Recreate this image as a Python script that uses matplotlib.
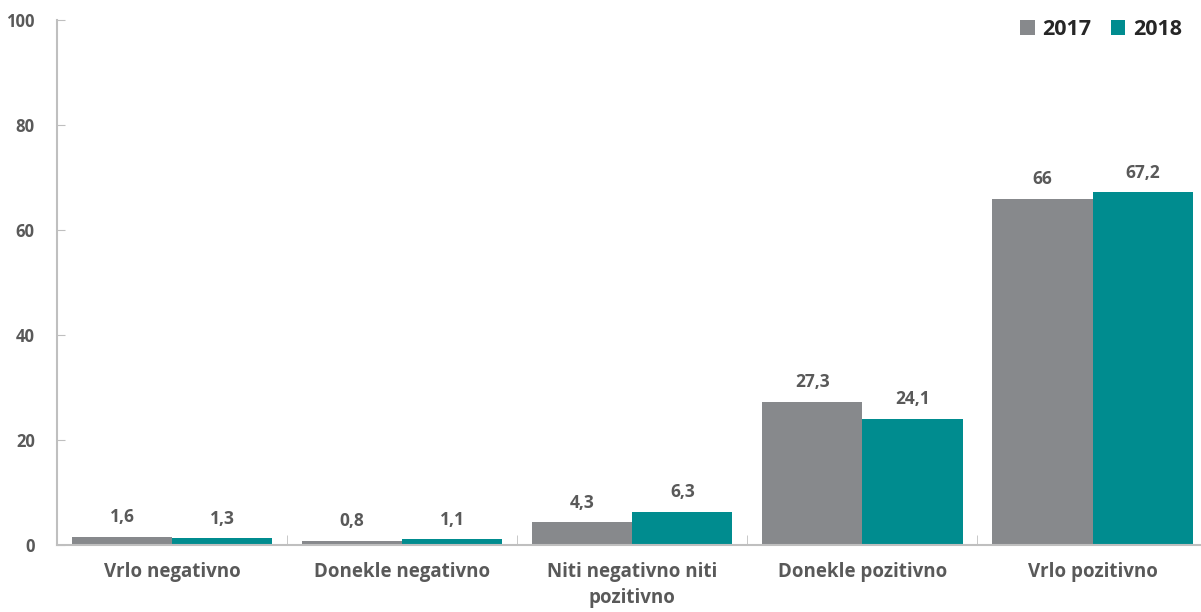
import matplotlib
matplotlib.use("Agg")
import matplotlib.pyplot as plt
import numpy as np

categories = ["Vrlo negativno", "Donekle negativno", "Niti negativno niti\npozitivno",
              "Donekle pozitivno", "Vrlo pozitivno"]
v2017 = [1.6, 0.8, 4.3, 27.3, 66]
v2018 = [1.3, 1.1, 6.3, 24.1, 67.2]
lab2017 = ["1,6", "0,8", "4,3", "27,3", "66"]
lab2018 = ["1,3", "1,1", "6,3", "24,1", "67,2"]
yticks = [0, 20, 40, 60, 80, 100]

plt.rcParams['font.family'] = ['Open Sans', 'DejaVu Sans']
fig = plt.figure(figsize=(12.01, 6.12), dpi=100)
ax = fig.add_axes([0.0475, 0.1095, 0.958, 0.8575])

c17 = "#87898C"
c18 = "#008C8F"
txt = "#595959"
w = 0.435
x = np.arange(len(categories))
ax.bar(x - w/2, v2017, w, color=c17, label="2017")
ax.bar(x + w/2, v2018, w, color=c18, label="2018")
for xi, v, l in zip(x - w/2, v2017, lab2017):
    ax.text(xi, v + 2.0, l, ha='center', va='bottom', fontsize=12.5, fontweight='bold', color=txt)
for xi, v, l in zip(x + w/2, v2018, lab2018):
    ax.text(xi, v + 2.0, l, ha='center', va='bottom', fontsize=12.5, fontweight='bold', color=txt)

ax.set_xlim(-0.5, 4.5)
ax.set_ylim(0, 100)
ax.set_yticks(yticks)
ax.set_yticklabels([str(t) for t in yticks], fontsize=12, fontweight='bold', color=txt)
ax.set_xticks(x)
ax.set_xticklabels(categories, fontsize=13.5, fontweight='bold', color=txt, linespacing=1.45)
ax.tick_params(axis='x', length=0, pad=12)
ax.set_xticks(np.arange(0.5, 4.5, 1), minor=True)
ax.tick_params(axis='x', which='minor', direction='in', length=7, color="#BFBFBF")
ax.tick_params(axis='y', direction='in', length=6, color="#BFBFBF", pad=16)
for s in ['top', 'right']:
    ax.spines[s].set_visible(False)
for s in ['left', 'bottom']:
    ax.spines[s].set_color("#BFBFBF")
    ax.spines[s].set_linewidth(1.5)

handles, labels = ax.get_legend_handles_labels()
leg = fig.legend(handles, labels, loc='upper right', bbox_to_anchor=(1182/1201, 1 - 19/612),
                 ncol=2, frameon=False, borderaxespad=0, borderpad=0,
                 prop={'family': 'Open Sans', 'weight': 'bold', 'size': 15.5},
                 handlelength=0.68, handleheight=0.68, handletextpad=0.35, columnspacing=0.9)
for t in leg.get_texts():
    t.set_color("#262626")

fig.savefig("out.png", dpi=100)
